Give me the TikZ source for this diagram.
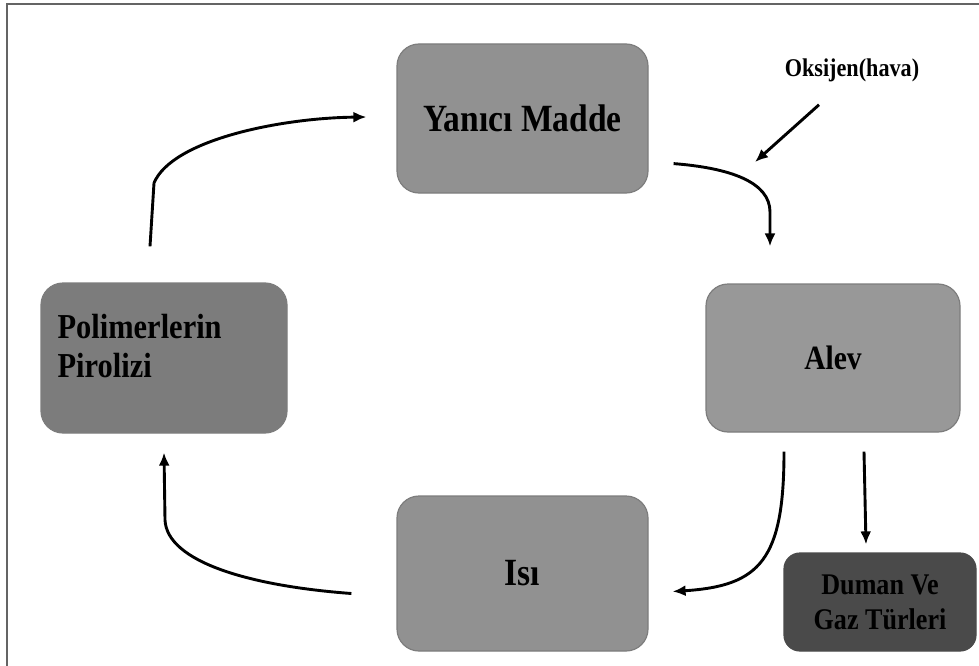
\documentclass[tikz,border=0pt]{standalone}
\usepackage{fontspec}
\setmainfont{Liberation Serif}[FakeStretch=0.87]
\usetikzlibrary{arrows.meta}
\definecolor{framegray}{RGB}{100,100,100}
\definecolor{boxline}{RGB}{125,125,125}
\definecolor{boxgray}{RGB}{145,145,145}
\definecolor{alevgray}{RGB}{152,152,152}
\definecolor{polgray}{RGB}{124,124,124}
\definecolor{dumangray}{RGB}{74,74,74}
\tikzset{
    box/.style={draw=boxline, line width=1.2pt, rounded corners=22pt, text=black, align=center, inner sep=0pt},
    flow/.style={line width=2.9pt, -{Latex[length=13pt,width=11pt]}}
}

\begin{document}
\begin{tikzpicture}[x=1pt,y=-1pt]
\useasboundingbox (0,0) rectangle (979,666);

% frame
\draw[framegray, line width=2pt] (7,666) -- (7,4) -- (979,4);

% boxes
\node[box, fill=boxgray, minimum width=251pt, minimum height=149pt, font=\bfseries\fontsize{38.5}{42}\selectfont] (yan) at (522.5,118.5) {Yanıcı Madde};
\node[box, fill=alevgray, minimum width=254pt, minimum height=148pt, font=\bfseries\fontsize{34}{38}\selectfont] (alev) at (833,358) {Alev};
\node[box, fill=boxgray, minimum width=251pt, minimum height=155pt, font=\bfseries\fontsize{38.5}{42}\selectfont] (isi) at (522.5,573.5) {Isı};
\node[box, fill=polgray, minimum width=246pt, minimum height=150pt] (pol) at (164,358) {};
\node[anchor=north west, inner sep=0pt, align=left, font=\bfseries\fontsize{35}{39}\selectfont] (poltext) at ([shift={(17,32)}]pol.north west) {Polimerlerin\\Pirolizi};
\node[box, fill=dumangray, draw=dumangray, minimum width=192pt, minimum height=98pt, rounded corners=16pt, font=\bfseries\fontsize{30}{35}\selectfont] (duman) at (880,602) {Duman Ve\\Gaz Türleri};
\node[inner sep=0pt, font=\bfseries\fontsize{25.5}{30}\selectfont] (oks) at (852,70) {Oksijen(hava)};

% cycle arrows
\draw[flow] ([shift={(-14,-36)}]pol.north) -- (154,183) .. controls (172,140) and (280,118) .. ([shift={(-30,-1.5)}]yan.west);
\draw[flow] ([shift={(25,-30)}]yan.south east) .. controls (730,168) and (770,182) .. (770,212) -- ([shift={(-63,-37)}]alev.north);
\draw[flow] ([shift={(-49,19)}]alev.south) .. controls (784,560) and (760,586) .. ([shift={(24,18)}]isi.east);
\draw[flow] ([shift={(-45,20)}]isi.west) .. controls (250,586) and (167,562) .. (165,520) -- ([shift={(0,19)}]pol.south);

% side arrows
\draw[flow] ([shift={(-33,23)}]oks.south) -- (755,162);
\draw[flow] ([shift={(31,19)}]alev.south) -- ([shift={(-14,-8)}]duman.north);
\end{tikzpicture}
\end{document}
